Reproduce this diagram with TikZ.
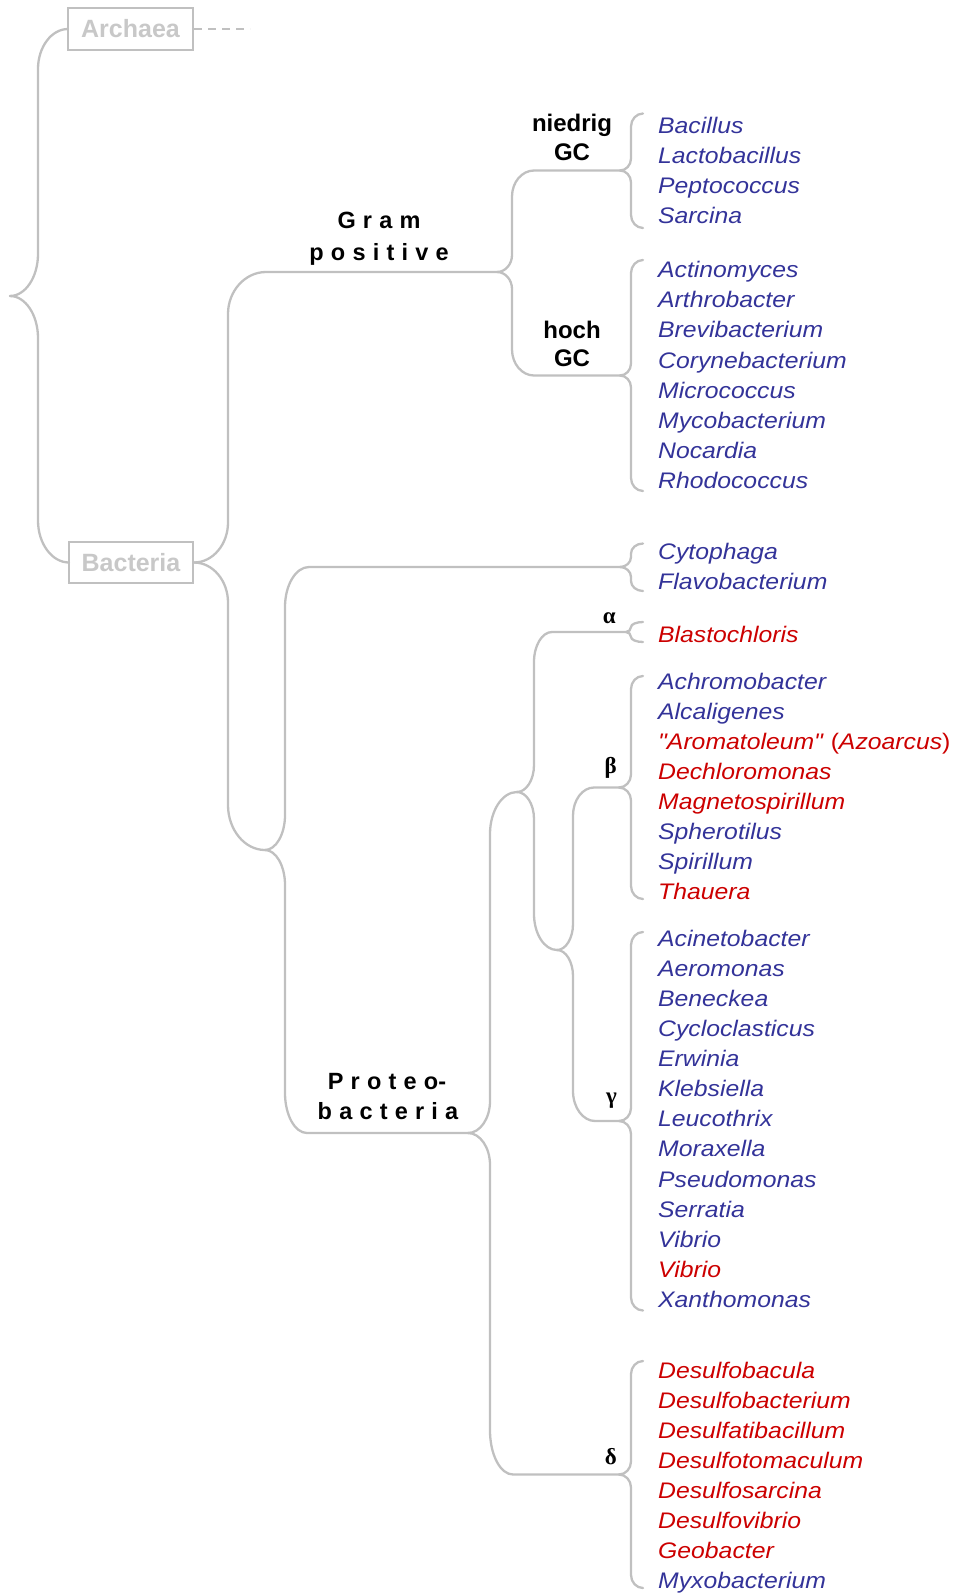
\documentclass[tikz,border=0pt]{standalone}
\usepackage{fontspec}
\setmainfont{Liberation Sans}
\newfontfamily\taxfont[FakeStretch=1.1]{Liberation Sans}
\newfontfamily\grkfont{Liberation Serif}
\usetikzlibrary{calc}
\definecolor{linegray}{RGB}{192,192,192}
\definecolor{boxgray}{RGB}{200,200,200}
\definecolor{taxblue}{RGB}{51,51,153}
\definecolor{taxred}{RGB}{204,0,0}
\newcommand\lsp{\hspace{7.2pt}}
% arm from cusp #1 to child #2 via vertical at x=#3; #4 cusp curve height, #5/#6 end curve height/width
\newcommand\arm[6]{%
  \draw[brline] let \p1=(#1), \p2=(#2), \n1={sign(\y2-\y1)} in
    (\p1) .. controls ({\x1+0.55*(#3pt-\x1)},\y1) and (#3pt,{\y1+0.45*(\n1)*#4pt}) .. (#3pt,{\y1+(\n1)*#4pt})
    -- (#3pt,{\y2-(\n1)*#5pt}) .. controls (#3pt,{\y2-0.45*(\n1)*#5pt}) and ({(#3+0.45*#6)*1pt},\y2) .. ({(#3+#6)*1pt},\y2) -- (\p2);}
\newcommand\taxa[3]{%
  \foreach [count=\i from 0] \tcol/\ttxt in {#3} {
    \node[taxon, text=\tcol] (#1\i) at (658, {#2+7.5+30.1*\i}) {\ttxt};
  }}
\begin{document}
\begin{tikzpicture}[x=1pt,y=-1pt,
  brline/.style={draw=linegray, line width=2.3pt, line cap=round, line join=round},
  domainbox/.style={draw=linegray, line width=2pt, text=boxgray, inner sep=0pt,
    font=\bfseries\fontsize{25}{28}\selectfont},
  taxon/.style={anchor=base west, inner sep=0pt, font=\taxfont\itshape\fontsize{22.5}{26}\selectfont},
  lab/.style={anchor=base, inner sep=0pt, font=\bfseries\fontsize{24}{28}\selectfont},
  spaced/.style={anchor=base, inner sep=0pt, font=\bfseries\fontsize{23.5}{26}\selectfont},
  greek/.style={anchor=base east, inner sep=0pt, font=\grkfont\bfseries\fontsize{23}{26}\selectfont}]
\useasboundingbox (0,0) rectangle (958,1593);

% domain boxes
\node[domainbox, minimum width=125, minimum height=42] (arch) at (130.5,29) {Archaea};
\node[domainbox, minimum width=124, minimum height=41] (bact) at (131,562.5) {Bacteria};
\coordinate (dashend) at (250,29);
\draw[brline, line cap=butt, dash pattern=on 8pt off 6pt] (arch.east) -- (dashend);

% inner joints
\coordinate (root) at (10,296);
\coordinate (n1) at (265,850);
\coordinate (gp) at (497,272);
\coordinate (pb) at (468,1133);
\coordinate (n2) at (517,792);
\coordinate (n3) at (557,950);

% leaf brace cusps and ends
\coordinate (loC) at (620,170.5);  \coordinate (loT) at (643,113.5);  \coordinate (loB) at (643,228);
\coordinate (hiC) at (620,375.5);  \coordinate (hiT) at (643,260);    \coordinate (hiB) at (643,491);
\coordinate (cyC) at (620,567);    \coordinate (cyT) at (643,543.5);  \coordinate (cyB) at (643,591);
\coordinate (alC) at (626,632);    \coordinate (alT) at (643,622);    \coordinate (alB) at (643,642);
\coordinate (beC) at (619,787.5);  \coordinate (beT) at (643,676);    \coordinate (beB) at (643,899);
\coordinate (gaC) at (619,1121);   \coordinate (gaT) at (643,932);    \coordinate (gaB) at (643,1310.5);
\coordinate (deC) at (619,1474.5); \coordinate (deT) at (643,1361);   \coordinate (deB) at (643,1588);

% tree connectors
\arm{root}{arch.west}{38}{42}{40}{30}
\arm{root}{bact.west}{38}{42}{42}{31}
\arm{bact.east}{gp}{228}{40}{42}{38}
\arm{bact.east}{n1}{228}{40}{45}{37}
\arm{n1}{cyC}{285}{35}{40}{24}
\arm{n1}{pb}{285}{35}{40}{22}
\arm{gp}{loC}{512}{17}{26}{22}
\arm{gp}{hiC}{512}{17}{26}{22}
\arm{pb}{n2}{490}{32}{42}{27}
\arm{pb}{deC}{490}{32}{44}{23}
\arm{n2}{alC}{534}{27}{30}{18}
\arm{n2}{n3}{534}{27}{36}{23}
\arm{n3}{beC}{573}{26}{28}{21}
\arm{n3}{gaC}{573}{26}{30}{22}

% leaf braces
\arm{loC}{loT}{631}{12}{13}{12} \arm{loC}{loB}{631}{12}{13}{12}
\arm{hiC}{hiT}{631}{12}{13}{12} \arm{hiC}{hiB}{631}{12}{13}{12}
\arm{cyC}{cyT}{631}{10}{10}{12} \arm{cyC}{cyB}{631}{10}{10}{12}
\arm{alC}{alT}{631}{5}{5}{12}   \arm{alC}{alB}{631}{5}{5}{12}
\arm{beC}{beT}{631}{13}{13}{12} \arm{beC}{beB}{631}{13}{13}{12}
\arm{gaC}{gaT}{631}{13}{13}{12} \arm{gaC}{gaB}{631}{13}{13}{12}
\arm{deC}{deT}{631}{13}{13}{12} \arm{deC}{deB}{631}{13}{13}{12}

% group labels
\node[spaced] (gram1) at (379,228.3) {G\lsp r\lsp a\lsp m};
\node[spaced] (gram2) at (379,260) {p\lsp o\lsp s\lsp i\lsp t\lsp i\lsp v\lsp e};
\node[spaced] (prot1) at (387,1089.3) {P\lsp r\lsp o\lsp t\lsp e\lsp o-};
\node[spaced] (prot2) at (388,1119) {b\lsp a\lsp c\lsp t\lsp e\lsp r\lsp i\lsp a};
\node[lab] (nied1) at (572,131.7) {niedrig};
\node[lab] (nied2) at (572,160) {GC};
\node[lab] (hoch1) at (572,338.3) {hoch};
\node[lab] (hoch2) at (572,366.7) {GC};
\node[greek] (alpha) at (616,623.3) {α};
\node[greek] (beta) at (617,773) {β};
\node[greek] (gamma) at (617,1103) {γ};
\node[greek] (delta) at (617,1464) {δ};

% taxa
\taxa{lo}{126}{taxblue/Bacillus, taxblue/Lactobacillus, taxblue/Peptococcus, taxblue/Sarcina}
\taxa{hi}{270.2}{taxblue/Actinomyces, taxblue/Arthrobacter, taxblue/Brevibacterium, taxblue/Corynebacterium, taxblue/Micrococcus, taxblue/Mycobacterium, taxblue/Nocardia, taxblue/Rhodococcus}
\taxa{cy}{551.6}{taxblue/Cytophaga, taxblue/Flavobacterium}
\taxa{al}{635}{taxred/Blastochloris}
\taxa{be}{681.7}{taxblue/Achromobacter, taxblue/Alcaligenes, taxred/{"Aromatoleum" \textup{(}Azoarcus\textup{)}}, taxred/Dechloromonas, taxred/Magnetospirillum, taxblue/Spherotilus, taxblue/Spirillum, taxred/Thauera}
\taxa{ga}{938.7}{taxblue/Acinetobacter, taxblue/Aeromonas, taxblue/Beneckea, taxblue/Cycloclasticus, taxblue/Erwinia, taxblue/Klebsiella, taxblue/Leucothrix, taxblue/Moraxella, taxblue/Pseudomonas, taxblue/Serratia, taxblue/Vibrio, taxred/Vibrio, taxblue/Xanthomonas}
\taxa{de}{1370.5}{taxred/Desulfobacula, taxred/Desulfobacterium, taxred/Desulfatibacillum, taxred/Desulfotomaculum, taxred/Desulfosarcina, taxred/Desulfovibrio, taxred/Geobacter, taxblue/Myxobacterium}
\end{tikzpicture}
\end{document}
